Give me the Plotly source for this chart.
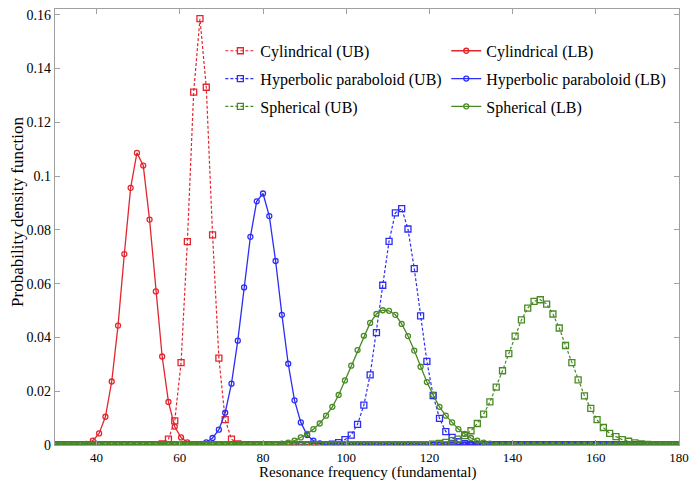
import numpy as np
import plotly.graph_objects as go

# Sampling grid of resonance frequency (100 points from 30 to 180)
FREQ = np.linspace(30, 180, 100)
N = len(FREQ)

def pad(start, vals):
    return [0.0] * start + vals + [0.0] * (N - start - len(vals))

# Values (index of first listed value, then values)
cyl_lb = pad(4, [0.0001, 0.0004, 0.0016, 0.0043, 0.0105, 0.0236, 0.0444, 0.0710, 0.0956,
                 0.1086, 0.1039, 0.0838, 0.0571, 0.0329, 0.0160, 0.0068, 0.0028, 0.0010, 0.0003])
cyl_ub = pad(17, [0.0004, 0.0022, 0.0090, 0.0306, 0.0756, 0.1312, 0.1585, 0.1330, 0.0781,
                  0.0323, 0.0094, 0.0022, 0.0004])
hyp_lb = pad(23, [0.0003, 0.0010, 0.0026, 0.0057, 0.0120, 0.0228, 0.0388, 0.0586, 0.0774,
                  0.0906, 0.0935, 0.0851, 0.0684, 0.0484, 0.0302, 0.0166, 0.0084, 0.0037,
                  0.0016, 0.0006])
hyp_ub = pad(44, [0.0003, 0.0009, 0.0020, 0.0037, 0.0077, 0.0148, 0.0261, 0.0418, 0.0594,
                  0.0757, 0.0863, 0.0879, 0.0803, 0.0656, 0.0480, 0.0311, 0.0184, 0.0099,
                  0.0050, 0.0028, 0.0012, 0.0005])
sph_lb = pad(35, [0.0002, 0.0005, 0.0009, 0.0016, 0.0028, 0.0041, 0.0059, 0.0080, 0.0109,
                  0.0142, 0.0186, 0.0240, 0.0295, 0.0353, 0.0406, 0.0454, 0.0487, 0.0501,
                  0.0499, 0.0484, 0.0450, 0.0405, 0.0351, 0.0291, 0.0234, 0.0186, 0.0142,
                  0.0109, 0.0084, 0.0059, 0.0041, 0.0026, 0.0016, 0.0009, 0.0005])
sph_ub = pad(60, [0.0003, 0.0006, 0.0010, 0.0016, 0.0022, 0.0035, 0.0053, 0.0080, 0.0115,
                  0.0160, 0.0215, 0.0276, 0.0340, 0.0405, 0.0465, 0.0509, 0.0534, 0.0540,
                  0.0524, 0.0487, 0.0435, 0.0370, 0.0306, 0.0242, 0.0183, 0.0136, 0.0094,
                  0.0065, 0.0043, 0.0031, 0.0020, 0.0014, 0.0008, 0.0004, 0.0002])

X_TICKS = [40, 60, 80, 100, 120, 140, 160, 180]
Y_TICKS = [0, 0.02, 0.04, 0.06, 0.08, 0.1, 0.12, 0.14, 0.16]
X_TITLE = "Resonance frequency (fundamental)"
Y_TITLE = "Probability density function"

RED = "#e3262e"
BLUE = "#2d2df5"
GREEN = "#4a8a26"
FONT = "Liberation Serif, Times New Roman, serif"

series = [
    ("Cylindrical (UB)", cyl_ub, RED, "ub", "legend"),
    ("Cylindrical (LB)", cyl_lb, RED, "lb", "legend2"),
    ("Hyperbolic paraboloid (UB)", hyp_ub, BLUE, "ub", "legend"),
    ("Hyperbolic paraboloid (LB)", hyp_lb, BLUE, "lb", "legend2"),
    ("Spherical (UB)", sph_ub, GREEN, "ub", "legend"),
    ("Spherical (LB)", sph_lb, GREEN, "lb", "legend2"),
]

fig = go.Figure()
for name, vals, col, kind, leg in series:
    if kind == "ub":
        line = dict(color=col, width=1.2, dash="3px,2px")
        marker = dict(symbol="square-open", size=6, color=col, line=dict(width=1.3, color=col))
    else:
        line = dict(color=col, width=1.3)
        marker = dict(symbol="circle-open", size=5, color=col, line=dict(width=1.3, color=col))
    fig.add_trace(go.Scatter(x=FREQ, y=vals, mode="lines+markers", name=name,
                             line=line, marker=marker, legend=leg,
                             legendgroup=name))

axis_common = dict(showline=True, linecolor="#a0a0a0", linewidth=1.2, mirror="ticks",
                   ticks="inside", ticklen=5, tickcolor="#a0a0a0", showgrid=False,
                   zeroline=False, automargin=False)

fig.update_xaxes(range=[30, 180], tickvals=X_TICKS,
                 tickfont=dict(family=FONT, size=13, color="black"), **axis_common)
fig.update_yaxes(range=[0, 0.1621], tickvals=Y_TICKS,
                 tickfont=dict(family=FONT, size=14, color="black"), **axis_common)

fig.add_annotation(text=X_TITLE, xref="paper", yref="paper", x=0.5, y=-0.064,
                   xanchor="center", yanchor="middle", showarrow=False,
                   font=dict(family=FONT, size=15, color="black"))
fig.add_annotation(text=Y_TITLE, xref="paper", yref="paper", x=-0.059, y=0.535,
                   xanchor="center", yanchor="middle", showarrow=False, textangle=-90,
                   font=dict(family=FONT, size=17, color="black"))

leg_common = dict(font=dict(family=FONT, size=16, color="black"), bgcolor="rgba(0,0,0,0)",
                  xanchor="left", yanchor="top", tracegroupgap=4, itemwidth=30)
fig.update_layout(
    width=698, height=483,
    margin=dict(l=55, r=19, t=9, b=38),
    paper_bgcolor="white", plot_bgcolor="white",
    legend=dict(x=0.265, y=0.943, **leg_common),
    legend2=dict(x=0.627, y=0.943, **leg_common),
)

fig.write_html("out.html")
